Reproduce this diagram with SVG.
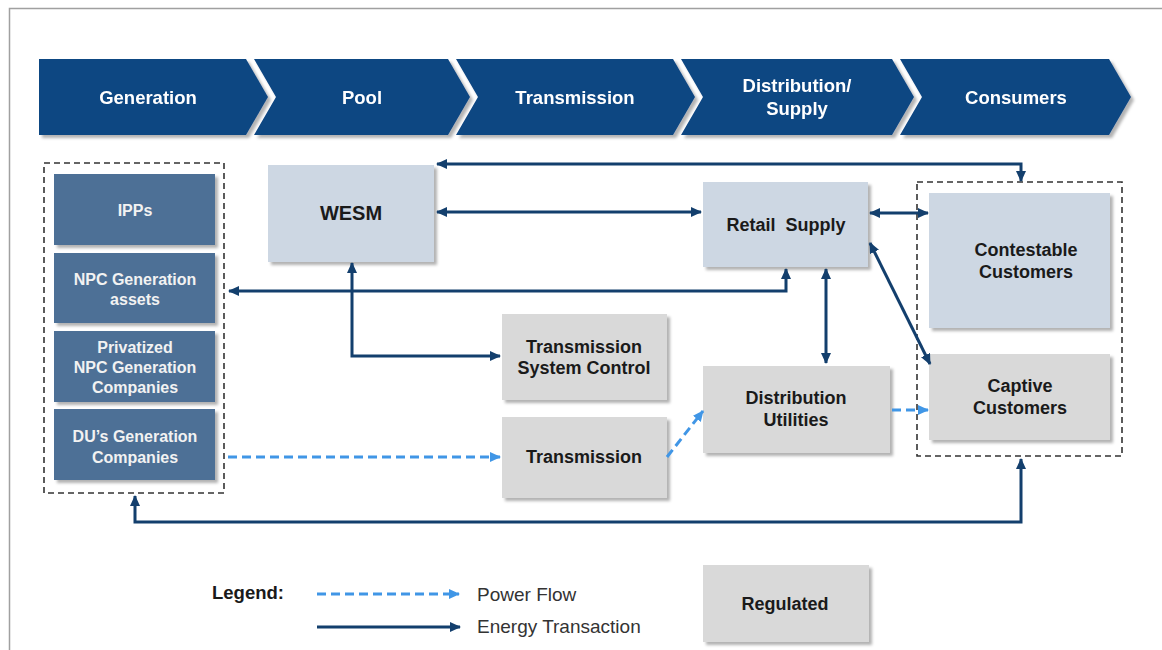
<svg xmlns="http://www.w3.org/2000/svg" width="1162" height="650" viewBox="0 0 1162 650">
<style>
.chev{fill:#0e4682;}
.chevt{font-family:"Liberation Sans",Arial,sans-serif;font-weight:bold;font-size:18.5px;fill:#ffffff;text-anchor:middle;}
.gen{fill:#4e6f96;}
.gent{font-family:"Liberation Sans",Arial,sans-serif;font-weight:bold;font-size:16px;fill:#f2f2f2;text-anchor:middle;}
.lb{fill:#cdd7e3;}
.gr{fill:#d9d9d9;}
.nt{font-family:"Liberation Sans",Arial,sans-serif;font-weight:bold;font-size:18px;fill:#1a1a1a;text-anchor:middle;}
.grp{fill:none;stroke:#333;stroke-width:1.6;stroke-dasharray:6,4;}
.et{fill:none;stroke:#133f6d;stroke-width:3;}
.pf{fill:none;stroke:#4096e6;stroke-width:3;stroke-dasharray:9,5;}
.leg{font-family:"Liberation Sans",Arial,sans-serif;font-size:19px;fill:#333;}
</style>
<defs>
<filter id="sh" x="-10%" y="-10%" width="130%" height="140%">
<feDropShadow dx="3" dy="3" stdDeviation="1.5" flood-color="#000" flood-opacity="0.3"/>
</filter>
<marker id="ad" markerUnits="userSpaceOnUse" markerWidth="11" markerHeight="10" refX="10" refY="5" orient="auto-start-reverse" viewBox="0 0 11 10">
<path d="M0,0 L11,5 L0,10 z" fill="#133f6d"/>
</marker>
<marker id="al" markerUnits="userSpaceOnUse" markerWidth="11" markerHeight="10" refX="10" refY="5" orient="auto-start-reverse" viewBox="0 0 11 10">
<path d="M0,0 L11,5 L0,10 z" fill="#4096e6"/>
</marker>
</defs>
<rect width="1162" height="650" fill="#ffffff"/>
<path d="M9.5,650 V8.5 H1162" fill="none" stroke="#a0a0a0" stroke-width="1.5"/>

<g id="chevrons" filter="url(#sh)">
<g id="chev-generation"><polygon class="chev" points="39,59 246,59 268,97 246,135 39,135"/><text class="chevt" x="148" y="104">Generation</text></g>
<g id="chev-pool"><polygon class="chev" points="254,59 448,59 470,97 448,135 254,135 276,97"/><text class="chevt" x="362" y="104">Pool</text></g>
<g id="chev-transmission"><polygon class="chev" points="456,59 673,59 695,97 673,135 456,135 478,97"/><text class="chevt" x="575" y="104">Transmission</text></g>
<g id="chev-distribution"><polygon class="chev" points="681,59 892,59 914,97 892,135 681,135 703,97"/><text class="chevt" x="797" y="92">Distribution/</text><text class="chevt" x="797" y="115">Supply</text></g>
<g id="chev-consumers"><polygon class="chev" points="900,59 1109,59 1131,97 1109,135 900,135 922,97"/><text class="chevt" x="1016" y="104">Consumers</text></g>
</g>

<g id="generation-group"><rect class="grp" x="44" y="163" width="180" height="330"/></g>
<g id="ipps"><rect class="gen" x="54" y="174" width="161" height="71" filter="url(#sh)"/><text class="gent" x="135" y="216">IPPs</text></g>
<g id="npc-assets"><rect class="gen" x="54" y="253" width="161" height="70" filter="url(#sh)"/><text class="gent" x="135" y="285">NPC Generation</text><text class="gent" x="135" y="305">assets</text></g>
<g id="privatized"><rect class="gen" x="54" y="331" width="161" height="71" filter="url(#sh)"/><text class="gent" x="135" y="353">Privatized</text><text class="gent" x="135" y="373">NPC Generation</text><text class="gent" x="135" y="393">Companies</text></g>
<g id="du-gen"><rect class="gen" x="54" y="409" width="161" height="71" filter="url(#sh)"/><text class="gent" x="135" y="442">DU’s Generation</text><text class="gent" x="135" y="463">Companies</text></g>

<g id="wesm"><rect class="lb" x="268" y="165" width="166" height="97" filter="url(#sh)"/><text class="nt" x="351" y="220" style="font-size:20px">WESM</text></g>
<g id="retail-supply"><rect class="lb" x="703" y="182" width="165" height="85" filter="url(#sh)"/><text class="nt" x="786" y="231" xml:space="preserve">Retail  Supply</text></g>
<g id="tsc"><rect class="gr" x="502" y="314" width="165" height="86" filter="url(#sh)"/><text class="nt" x="584" y="353">Transmission</text><text class="nt" x="584" y="374">System Control</text></g>
<g id="transmission"><rect class="gr" x="502" y="417" width="165" height="81" filter="url(#sh)"/><text class="nt" x="584" y="463">Transmission</text></g>
<g id="distribution-utilities"><rect class="gr" x="703" y="366" width="187" height="87" filter="url(#sh)"/><text class="nt" x="796" y="404">Distribution</text><text class="nt" x="796" y="426">Utilities</text></g>
<g id="consumers-group"><rect class="grp" x="917" y="182" width="205" height="274"/></g>
<g id="contestable"><rect class="lb" x="929" y="193" width="181" height="135" filter="url(#sh)"/><text class="nt" x="1026" y="256">Contestable</text><text class="nt" x="1026" y="278">Customers</text></g>
<g id="captive"><rect class="gr" x="929" y="354" width="181" height="86" filter="url(#sh)"/><text class="nt" x="1020" y="392">Captive</text><text class="nt" x="1020" y="414">Customers</text></g>

<g id="connectors">
<path class="et" d="M437,164 H1021 V181" marker-start="url(#ad)" marker-end="url(#ad)"/>
<path class="et" d="M437,212 H701" marker-start="url(#ad)" marker-end="url(#ad)"/>
<path class="et" d="M870,213 H928" marker-start="url(#ad)" marker-end="url(#ad)"/>
<path class="et" d="M786,269 V291 H229" marker-start="url(#ad)" marker-end="url(#ad)"/>
<path class="et" d="M352,263 V356 H500" marker-start="url(#ad)" marker-end="url(#ad)"/>
<path class="et" d="M826,269 V363" marker-start="url(#ad)" marker-end="url(#ad)"/>
<path class="et" d="M870,243 L930,364" marker-start="url(#ad)" marker-end="url(#ad)"/>
<path class="et" d="M135,496 V522 H1021 V459" marker-start="url(#ad)" marker-end="url(#ad)"/>
<path class="pf" d="M228,457 H500" marker-end="url(#al)"/>
<path class="pf" d="M667,457 L703,411" marker-end="url(#al)"/>
<path class="pf" d="M892,410 H928" marker-end="url(#al)"/>
</g>

<g id="legend">
<text x="212" y="599" style="font-family:'Liberation Sans',Arial,sans-serif;font-weight:bold;font-size:18.5px;fill:#1a1a1a">Legend:</text>
<path class="pf" d="M317,594 H459" marker-end="url(#al)"/>
<text class="leg" x="477" y="601">Power Flow</text>
<path class="et" d="M317,627 H460" marker-end="url(#ad)"/>
<text class="leg" x="477" y="633">Energy Transaction</text>
</g>
<g id="regulated"><rect class="gr" x="703" y="565" width="166" height="77" filter="url(#sh)"/><text class="nt" x="785" y="610">Regulated</text></g>
</svg>
